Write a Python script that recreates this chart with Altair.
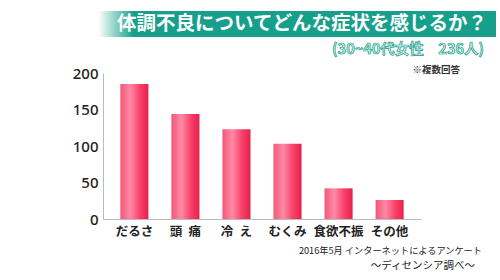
import altair as alt
import pandas as pd

categories = ["だるさ", "頭\u2002痛", "冷\u2002え", "むくみ", "食欲不振", "その他"]
values = [185, 144, 123, 103, 42, 26]
y_ticks = [0, 50, 100, 150, 200]

title_text = "体調不良についてどんな症状を感じるか？"
subtitle_text = "(30~40代女性　236人)"
note_text = "※複数回答"
source_line1 = "2016年5月 インターネットによるアンケート"
source_line2 = "～ディセンシア調べ～"

df = pd.DataFrame({"cat": categories, "val": values})

FONT = "Noto Sans CJK JP"
TEAL = "#16a08b"

# plot area: x 103..421, y 73..219
L, T = 103, 73
W, H = 318, 146

bar_grad = alt.Gradient(
    gradient="linear", x1=0, y1=0, x2=1, y2=0,
    stops=[
        alt.GradientStop(color="#f25676", offset=0),
        alt.GradientStop(color="#ff8aa6", offset=0.35),
        alt.GradientStop(color="#f8406a", offset=0.7),
        alt.GradientStop(color="#e8204c", offset=1),
    ],
)

bars = alt.Chart(df).mark_bar(color=bar_grad).encode(
    x=alt.X("cat:N", sort=categories,
            scale=alt.Scale(paddingInner=0.45, paddingOuter=0.34),
            axis=alt.Axis(title=None, labelAngle=0, ticks=False, domainColor="#bbbbbb",
                          labelFont=FONT, labelFontSize=12.5, labelFontWeight="bold",
                          labelColor="#222222", labelPadding=6)),
    y=alt.Y("val:Q", scale=alt.Scale(domain=[0, 200]),
            axis=alt.Axis(title=None, values=y_ticks, grid=False, ticks=False,
                          domainColor="#bbbbbb", labelFont="Noto Sans",
                          labelFontSize=15, labelFontWeight=500,
                          labelColor="#222222", labelPadding=5)),
)

banner_grad = alt.Gradient(
    gradient="linear", x1=0, y1=0, x2=1, y2=0,
    stops=[
        alt.GradientStop(color="#ffffff", offset=0),
        alt.GradientStop(color=TEAL, offset=0.09),
        alt.GradientStop(color=TEAL, offset=1),
    ],
)

banner = alt.Chart(pd.DataFrame({"a": [0]})).mark_rect(color=banner_grad).encode(
    x=alt.value(98 - L), x2=alt.value(496 - L),
    y=alt.value(11 - T), y2=alt.value(37 - T),
)

def txt(s, x, y, size, color, weight="normal", align="left", stroke=None, font=FONT):
    kw = dict(text=s, font=font, fontSize=size, color=color, fontWeight=weight,
              align=align, baseline="middle")
    if stroke:
        kw.update(stroke=stroke, strokeWidth=0.7)
    return alt.Chart(pd.DataFrame({"a": [0]})).mark_text(**kw).encode(
        x=alt.value(x - L), y=alt.value(y - T))

title = txt(title_text, 117, 24, 19.5, "#ffffff", "bold")
subtitle = txt(subtitle_text, 484, 50, 14.5, "#c4f0ea", "bold", "right", stroke="#1a9c88")
note = txt(note_text, 460, 70, 9.5, "#333333", "bold", "right")
src1 = txt(source_line1, 482, 251, 9.2, "#222222", "normal", "right")
src2 = txt(source_line2, 475, 266, 10.5, "#222222", "normal", "right")

chart = alt.layer(banner, bars, title, subtitle, note, src1, src2).properties(
    width=W, height=H,
    autosize=alt.AutoSizeParams(type="none"),
    padding={"left": L, "top": T, "right": 500 - L - W, "bottom": 280 - T - H},
    background="#ffffff",
).configure_view(stroke=None)

chart.save("out.html", embed_options={"renderer": "svg", "actions": False})
